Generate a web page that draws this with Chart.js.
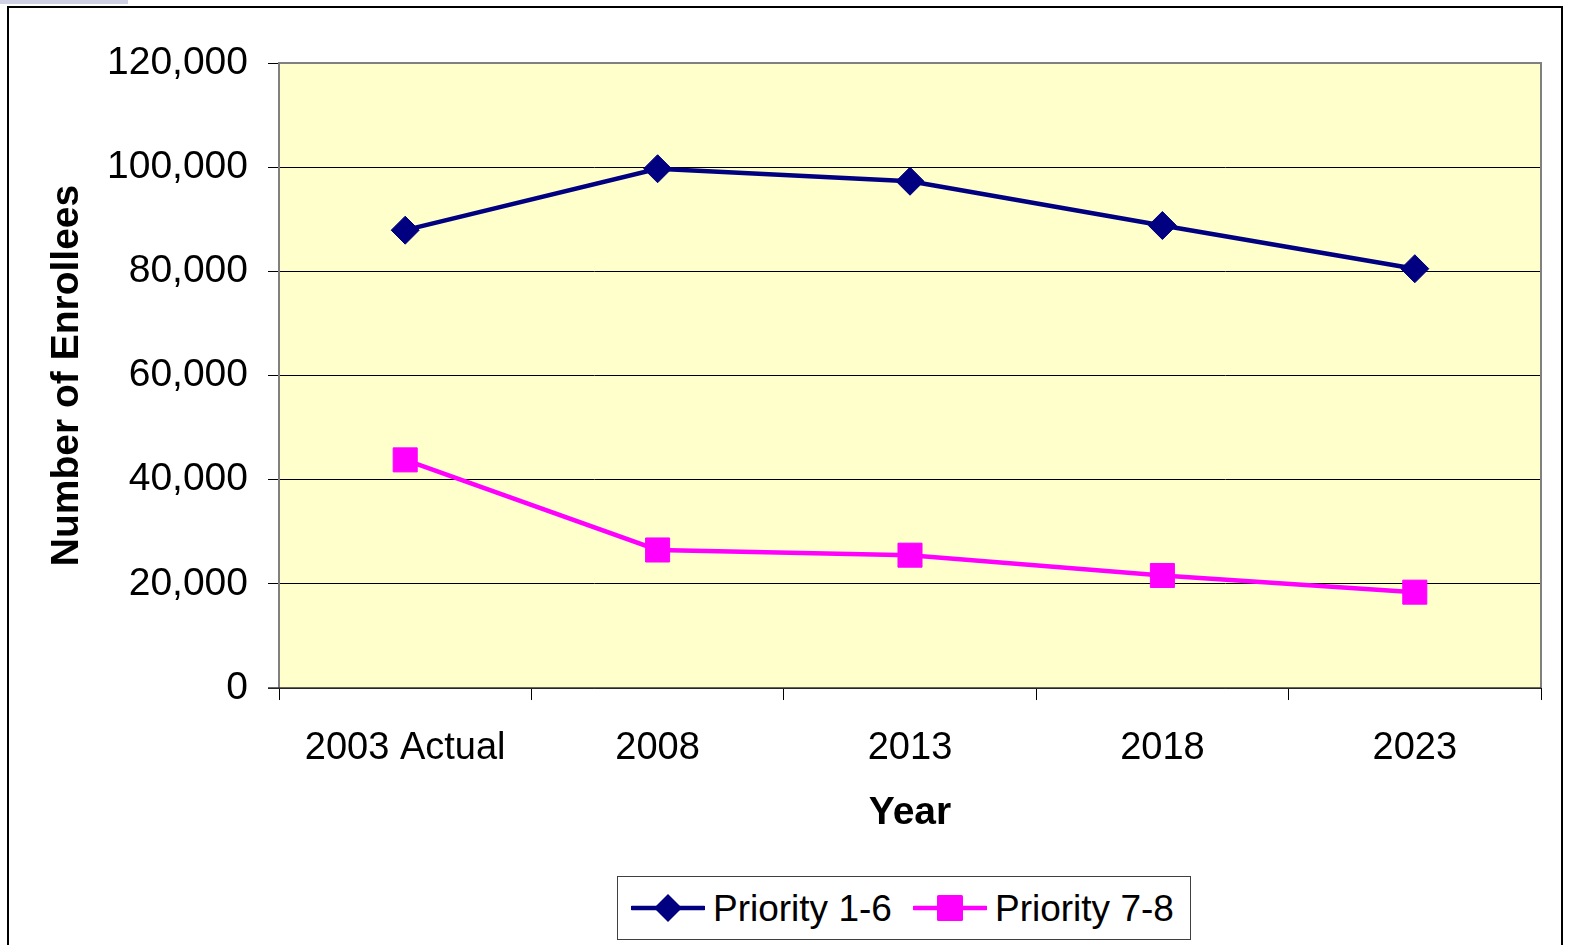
<!DOCTYPE html>
<html>
<head>
<meta charset="utf-8">
<script src="https://cdn.jsdelivr.net/npm/chart.js@4.4.1/dist/chart.umd.min.js"></script>
<style>
  html, body { margin: 0; padding: 0; background: #fff; width: 1570px; height: 945px; overflow: hidden; }
  #frame { position: absolute; left: 7px; top: 6px; width: 1556px; height: 960px; border: 2px solid #000; box-sizing: border-box; }
  #strip { position: absolute; left: 0; top: 0; width: 128px; height: 4px; background: #cfd0e6; }
  #c { position: absolute; left: 0; top: 0; }
  #legend { position: absolute; left: 617px; top: 876px; width: 574px; height: 64px; border: 1px solid #404040; box-sizing: border-box; background: #fff;
            font-family: "Liberation Sans", Arial, sans-serif; font-size: 37px; color: #000; }
  .li { position: absolute; top: 0; height: 62px; display: flex; align-items: center; }
  .li svg { display: block; }
  .li span { margin-left: 8px; line-height: 1; }
</style>
</head>
<body>
<div id="strip"></div>
<div id="frame"></div>
<canvas id="c" width="1570" height="945"></canvas>
<div id="legend"></div>
<script>
const categories = ['2003 Actual', '2008', '2013', '2018', '2023'];
const seriesNames = ['Priority 1-6', 'Priority 7-8'];
const priority16 = [87900, 99700, 97300, 88800, 80500];
const priority78 = [43800, 26500, 25500, 21600, 18400];
const yTicks = [0, 20000, 40000, 60000, 80000, 100000, 120000];
const xTitle = 'Year';
const yTitle = 'Number of Enrollees';

const FONT = '"Liberation Sans", Arial, sans-serif';
const NAVY = '#000080';
const MAGENTA = '#FF00FF';

const plotBg = {
  id: 'plotBg',
  beforeDraw(chart) {
    const {ctx, chartArea: a} = chart;
    ctx.save();
    ctx.fillStyle = '#FFFFCC';
    ctx.fillRect(a.left, a.top, a.right - a.left, a.bottom - a.top);
    ctx.restore();
  },
  beforeDatasetsDraw(chart) {
    const {ctx, chartArea: a} = chart;
    ctx.save();
    ctx.strokeStyle = '#808080';
    ctx.lineWidth = 2;
    ctx.beginPath();
    ctx.moveTo(a.left, a.bottom);
    ctx.lineTo(a.left, a.top);
    ctx.lineTo(a.right, a.top);
    ctx.lineTo(a.right, a.bottom);
    ctx.stroke();
    ctx.strokeStyle = '#333';
    ctx.lineWidth = 1.5;
    ctx.beginPath();
    ctx.moveTo(a.left - 11, a.bottom);
    ctx.lineTo(a.right, a.bottom);
    ctx.stroke();
    ctx.restore();
  }
};

new Chart(document.getElementById('c'), {
  type: 'line',
  data: {
    labels: categories,
    datasets: [
      { label: seriesNames[0], data: priority16, borderColor: NAVY, backgroundColor: NAVY,
        borderWidth: 4.5, pointStyle: 'rectRot', pointRadius: 14, pointBorderWidth: 1,
        pointBackgroundColor: NAVY, pointBorderColor: NAVY, tension: 0 },
      { label: seriesNames[1], data: priority78, borderColor: MAGENTA, backgroundColor: MAGENTA,
        borderWidth: 4.5, pointStyle: 'rect', pointRadius: 17, pointBorderWidth: 1,
        pointBackgroundColor: MAGENTA, pointBorderColor: MAGENTA, tension: 0 }
    ]
  },
  options: {
    responsive: false,
    animation: false,
    layout: { padding: { left: 44, top: 63, right: 29, bottom: 108 } },
    plugins: { legend: { display: false }, tooltip: { enabled: false } },
    scales: {
      x: {
        type: 'category',
        offset: true,
        afterFit(s) { s.height = 149; },
        grid: { display: true, offset: true, drawOnChartArea: false, drawTicks: true, tickLength: 12, color: '#000', lineWidth: 1 },
        border: { display: false },
        ticks: { color: '#000', padding: 26, font: { family: FONT, size: 38 }, maxRotation: 0, autoSkip: false },
        title: { display: true, text: xTitle, color: '#000', padding: 0, font: { family: FONT, size: 39, weight: 'bold' } }
      },
      y: {
        min: 0, max: 120000,
        afterFit(s) { s.width = 235; },
        afterBuildTicks(s) { s.ticks = yTicks.map(v => ({ value: v })); },
        grid: { color: '#000', lineWidth: 1, tickLength: 11, drawTicks: true },
        border: { display: false },
        ticks: { color: '#000', padding: 20, font: { family: FONT, size: 39 },
                 callback: v => Number(v).toLocaleString('en-US') },
        title: { display: true, text: yTitle, color: '#000', padding: 0, font: { family: FONT, size: 39, weight: 'bold' } }
      }
    }
  },
  plugins: [plotBg]
});

// HTML legend
const legend = document.getElementById('legend');
const sym = [
  `<svg width="74" height="30" viewBox="0 0 74 30"><line x1="1" y1="15" x2="73" y2="15" stroke="${NAVY}" stroke-width="4.5" stroke-linecap="round"/><polygon points="37,1 51,15 37,29 23,15" fill="${NAVY}"/></svg>`,
  `<svg width="74" height="30" viewBox="0 0 74 30"><line x1="1" y1="15" x2="73" y2="15" stroke="${MAGENTA}" stroke-width="4.5" stroke-linecap="round"/><rect x="24" y="2" width="26" height="26" rx="1.5" fill="${MAGENTA}"/></svg>`
];
const lefts = [13, 295];
seriesNames.forEach((n, i) => {
  const d = document.createElement('div');
  d.className = 'li';
  d.style.left = lefts[i] + 'px';
  d.innerHTML = sym[i] + '<span>' + n + '</span>';
  legend.appendChild(d);
});
</script>
</body>
</html>
